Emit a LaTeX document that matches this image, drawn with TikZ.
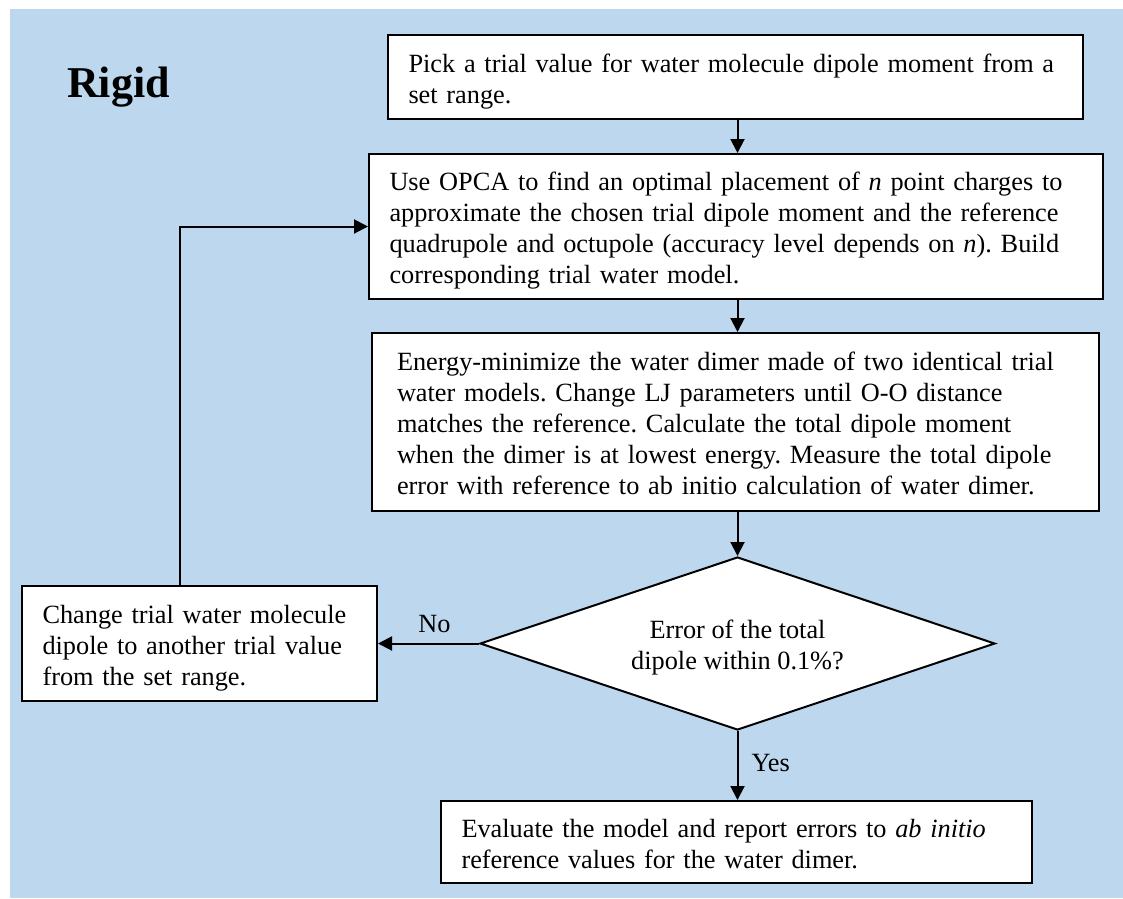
\documentclass[tikz,border=0pt]{standalone}
\usepackage{fontspec}
\setmainfont{Liberation Serif}
\usetikzlibrary{arrows.meta,shapes.geometric}
\definecolor{bgblue}{RGB}{189,215,238}
\frenchspacing
\newcommand{\tline}[1]{\mbox{#1}}
\newcommand{\topstrut}{\rule{0pt}{28pt}}
\newcommand{\botstrut}{\rule[-7pt]{0pt}{7pt}}
\begin{document}
\begin{tikzpicture}[x=1pt,y=-1pt,
  font=\fontsize{26.3}{31}\selectfont\frenchspacing,
  stepbox/.style={draw, line width=2pt, fill=white, inner xsep=20.5pt, inner ysep=0pt, align=left},
  decision/.style={draw, line width=2pt, fill=white, shape=diamond, inner sep=0pt, align=center,
    aspect=3, minimum width=515pt, minimum height=173pt},
  arr/.style={line width=2pt, -{Triangle[length=14pt,width=14pt]}},
  lbl/.style={inner sep=0pt}]
\useasboundingbox (0,0) rectangle (1123,898);
\fill[bgblue] (10,9) rectangle (1123,898);

\node[font=\fontsize{44}{50}\selectfont\bfseries, anchor=base west, inner sep=0pt] (title) at (67,97) {Rigid};

\node[stepbox, minimum width=695pt, minimum height=84pt, text width=654pt] (b1) at (735.5,77)
  {\topstrut\tline{Pick a trial value for water molecule dipole moment from a}\\\tline{set range.}\botstrut};
\node[stepbox, minimum width=734pt, minimum height=145pt, text width=693pt] (b2) at (736,226.5)
  {\topstrut\tline{Use OPCA to find an optimal placement of \textit{n} point charges to}\\
   \tline{approximate the chosen trial dipole moment and the reference}\\
   \tline{quadrupole and octupole (accuracy level depends on \textit{n}). Build}\\
   \tline{corresponding trial water model.}\botstrut};
\node[stepbox, inner xsep=25pt, minimum width=727pt, minimum height=178pt, text width=677pt] (b3) at (735.5,422)
  {\topstrut\tline{Energy-minimize the water dimer made of two identical trial}\\
   \tline{water models. Change LJ parameters until O-O distance}\\
   \tline{matches the reference. Calculate the total dipole moment}\\
   \tline{when the dimer is at lowest energy. Measure the total dipole}\\
   \tline{error with reference to ab initio calculation of water dimer.}\botstrut};
\node[decision] (d) at (737.5,643.5) {\topstrut Error of the total\\dipole within 0.1\%?\botstrut};
\node[stepbox, minimum width=355pt, minimum height=115pt, text width=314pt] (b4) at (199.5,643.5)
  {\topstrut\tline{Change trial water molecule}\\\tline{dipole to another trial value}\\\tline{from the set range.}\botstrut};
\node[stepbox, minimum width=591pt, minimum height=82pt, text width=550pt] (b5) at (736.5,842)
  {\topstrut\tline{Evaluate the model and report errors to \textit{ab initio}}\\\tline{reference values for the water dimer.}\botstrut};

\draw[arr] (b1.south -| d.north) -- (b2.north -| d.north);
\draw[arr] (b2.south -| d.north) -- (b3.north -| d.north);
\draw[arr] (b3.south -| d.north) -- (d.north);
\draw[arr] (d.west) -- node[lbl, above=10pt, xshift=6pt] {No} (b4.east);
\draw[arr] (d.south) -- node[lbl, right=13pt, pos=0.47] {Yes} (b5.north -| d.south);
\draw[arr] ([xshift=-19.5pt]b4.north) |- (b2.west);
\end{tikzpicture}
\end{document}
